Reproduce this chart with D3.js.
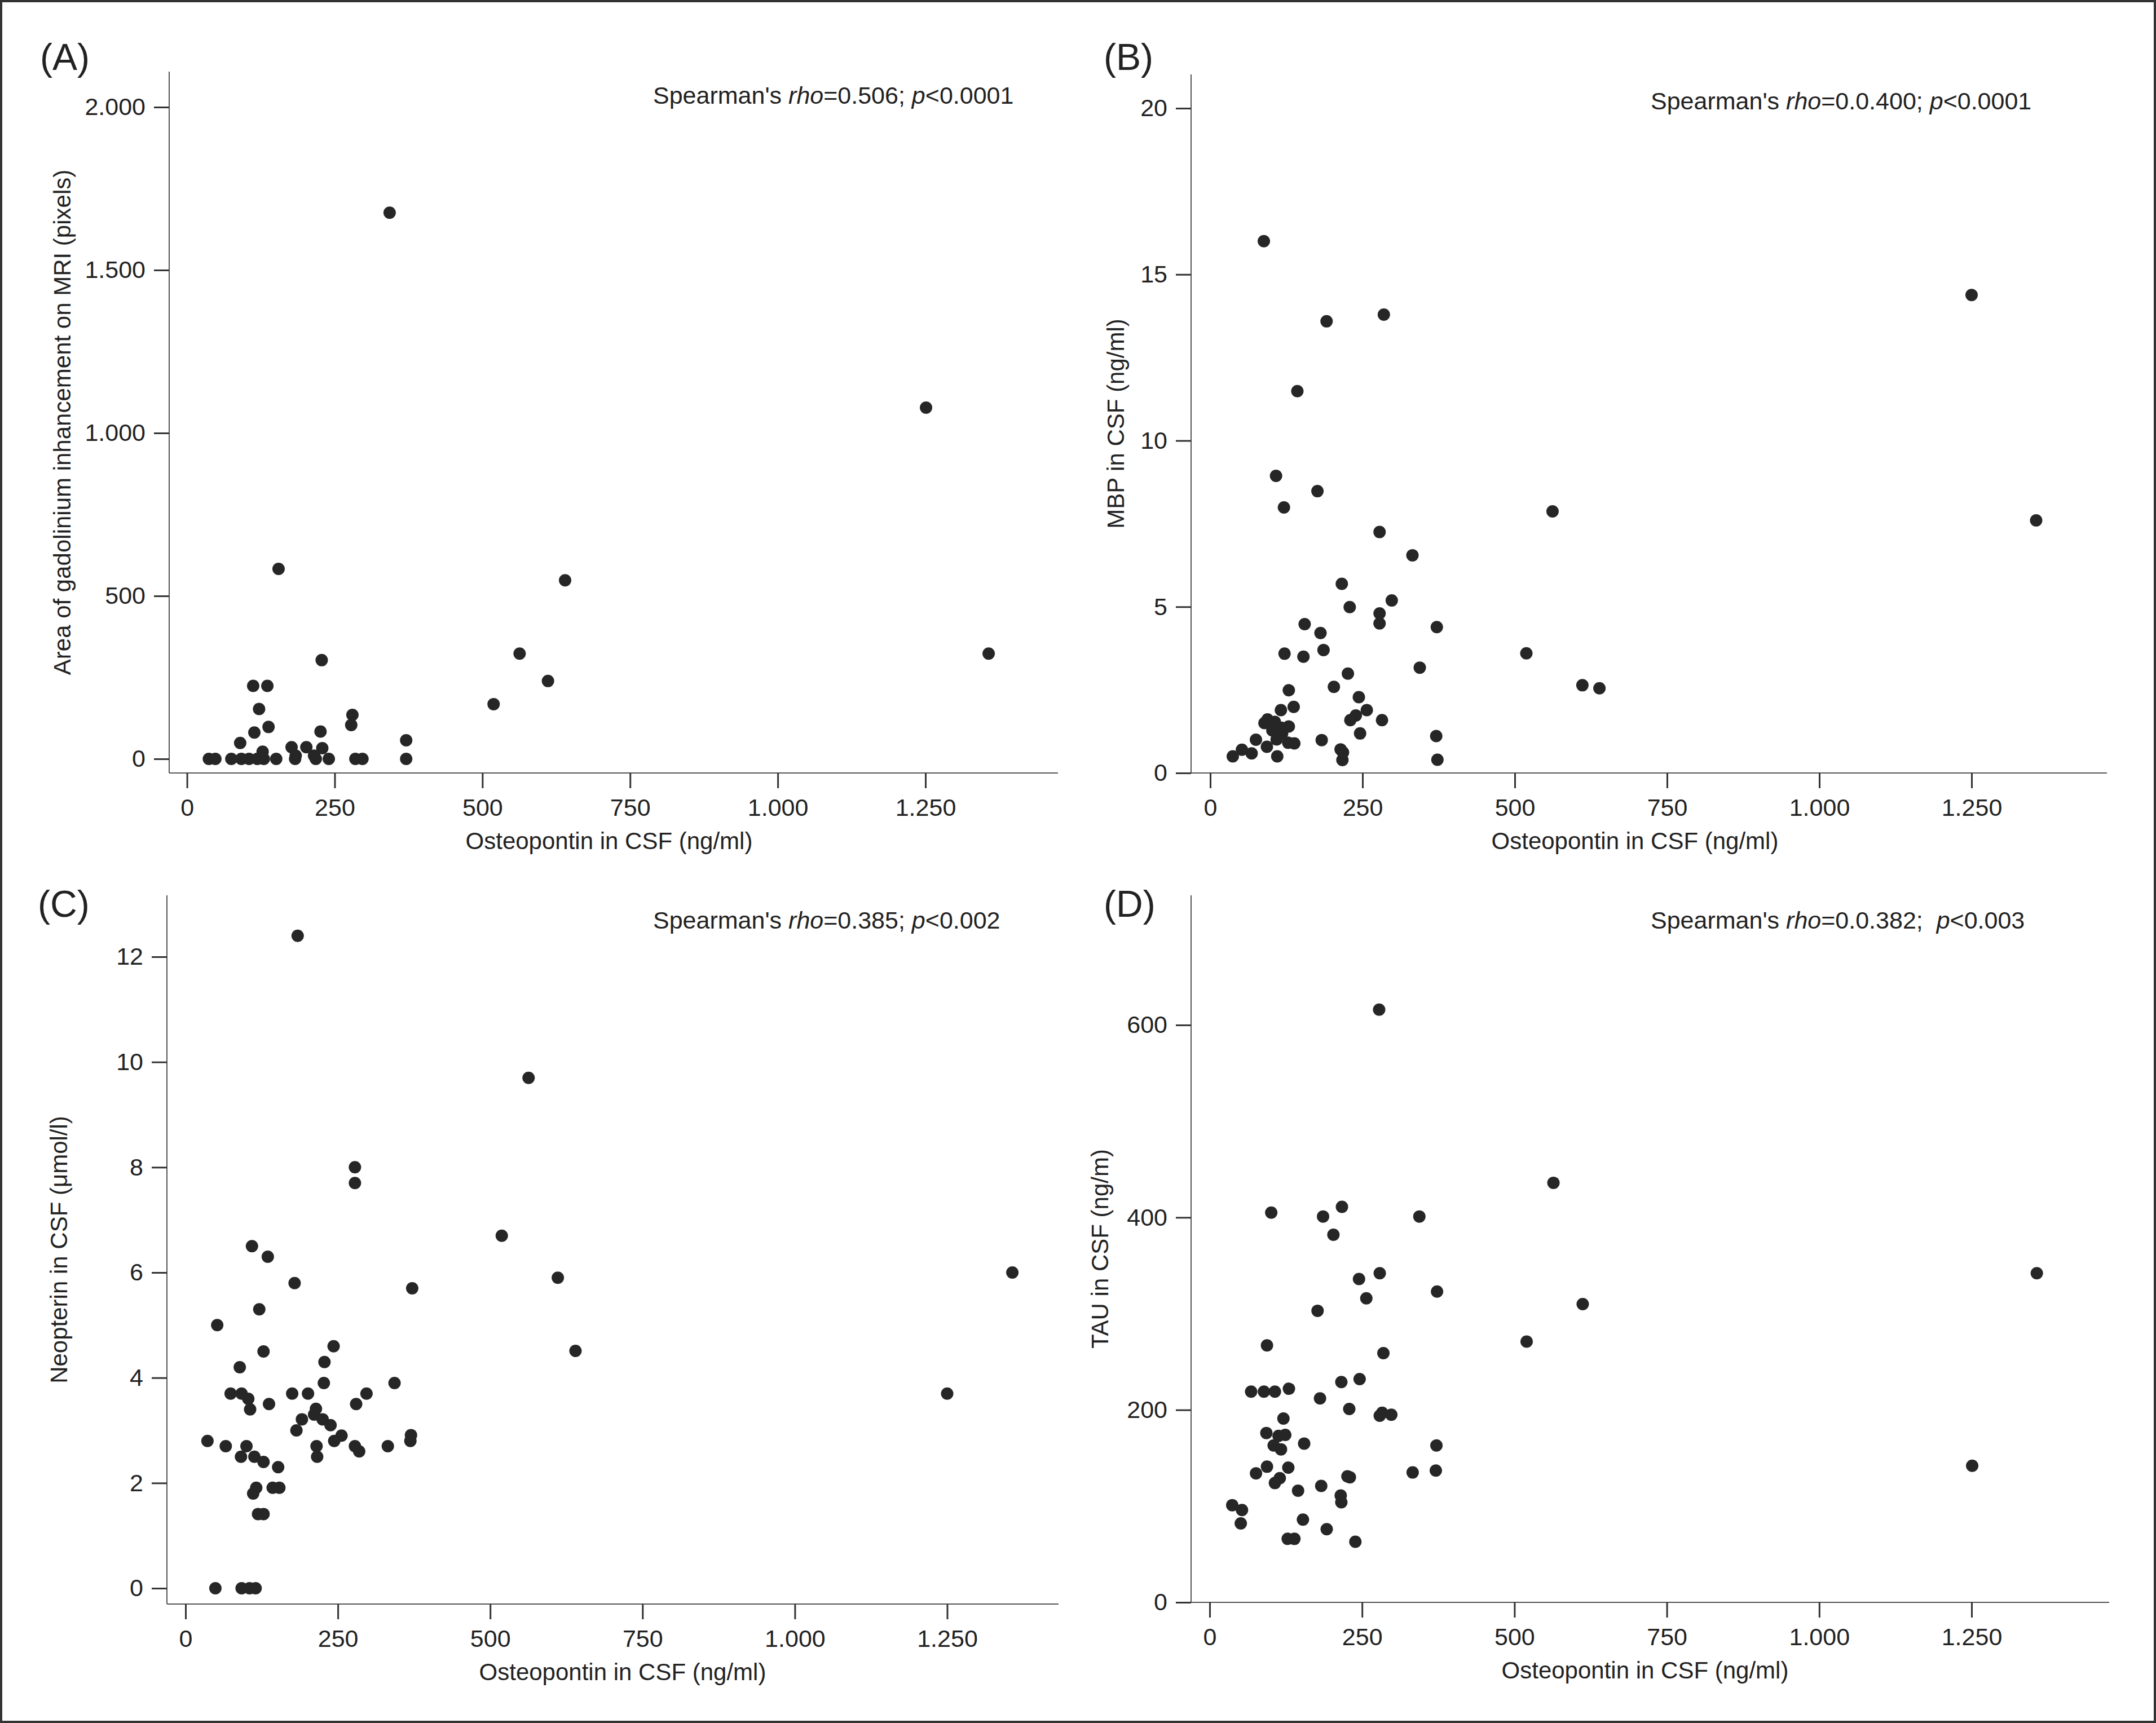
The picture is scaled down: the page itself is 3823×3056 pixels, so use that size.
<!DOCTYPE html>
<html>
<head>
<meta charset="utf-8">
<script src="https://cdn.jsdelivr.net/npm/d3@7"></script>
<style>
  body { margin: 0; background: #fff; }
  svg { display: block; }
  text { font-family: "Liberation Sans", Arial, Helvetica, sans-serif; fill: #222; }
</style>
</head>
<body>
<div id="chart"></div>
<script>
// osteopontin in CSF (ng/ml) vs. area of gadolinium enhancement (pixels)
const panelA = [
  [343,1676],[1251,1078],[1357,323],[640,548],[563,323],[611,239],[519,168],[155,583],
  [228,303],[112,224],[136,224],[122,153],[114,81],[138,98],[226,84],[90,49],
  [280,135],[278,104],[371,57],[371,0],[177,36],[202,36],[229,33],[128,22],[184,10],[215,10],
  [37,0],[48,0],[75,0],[92,0],[105,0],[119,0],[130,0],[151,0],[183,0],[218,0],[240,0],[285,0],[297,0]
];

// osteopontin vs. MBP in CSF (ng/ml)
const panelB = [
  [88,16.0],[1250,14.38],[285,13.79],[191,13.59],[143,11.49],[108,8.94],[176,8.48],[121,7.99],
  [562,7.87],[1356,7.60],[278,7.25],[332,6.55],[216,5.69],[298,5.19],[229,4.99],[278,4.80],
  [278,4.50],[155,4.48],[372,4.39],[181,4.21],[186,3.70],[122,3.59],[153,3.50],[519,3.60],
  [344,3.17],[226,2.99],[611,2.64],[639,2.55],[203,2.59],[129,2.49],[244,2.28],[137,1.99],
  [116,1.89],[257,1.89],[239,1.73],[230,1.59],[282,1.59],[94,1.61],[106,1.54],[89,1.50],
  [129,1.40],[117,1.36],[102,1.28],[118,1.19],[109,1.01],[75,1.00],[93,0.79],[128,0.91],
  [138,0.89],[52,0.70],[68,0.59],[37,0.50],[110,0.50],[183,0.99],[246,1.19],[214,0.71],
  [218,0.62],[217,0.39],[371,1.11],[373,0.40]
];

// osteopontin vs. neopterin in CSF (umol/l)
const panelC = [
  [184,12.4],[563,9.7],[278,8.0],[278,7.7],[519,6.7],[611,5.9],[640,4.51],[1250,3.7],[1357,6.0],
  [372,5.7],[109,6.5],[135,6.3],[179,5.8],[121,5.3],[52,5.0],[128,4.5],[243,4.6],[228,4.3],
  [89,4.2],[227,3.9],[343,3.9],[74,3.7],[92,3.7],[175,3.7],[201,3.7],[297,3.7],[103,3.6],
  [137,3.5],[280,3.5],[106,3.4],[214,3.41],[211,3.3],[225,3.21],[191,3.21],[238,3.1],[182,3.0],
  [256,2.9],[370,2.91],[369,2.8],[244,2.8],[36,2.8],[66,2.7],[100,2.7],[215,2.7],[278,2.7],
  [332,2.7],[285,2.6],[91,2.5],[113,2.5],[216,2.5],[128,2.4],[152,2.3],[116,1.91],[111,1.8],
  [143,1.91],[154,1.91],[119,1.41],[128,1.41],[49,0],[92,0],[105,0],[115,0]
];

// osteopontin vs. TAU in CSF (ng/m)
const panelD = [
  [278,616],[564,436],[612,310],[520,271],[1251,142],[1357,342],
  [101,405],[186,401],[217,411],[344,401],[203,382],[279,342],[245,336],[373,323],[257,316],
  [177,303],[94,267],[285,259],[216,229],[246,232],[68,219],[89,219],[107,219],[130,222],
  [181,212],[229,201],[279,194],[283,197],[298,195],[121,191],[93,176],[113,173],[124,174],
  [105,163],[117,159],[155,165],[372,163],[94,141],[76,134],[129,140],[115,129],[107,124],
  [333,135],[371,137],[226,131],[230,130],[145,116],[183,121],[215,111],[216,104],[37,101],
  [53,96],[51,82],[153,86],[192,76],[128,66],[139,66],[239,63]
];

const xTicks = [0, 250, 500, 750, 1000, 1250];
const yTicksA = [0, 500, 1000, 1500, 2000];
const yTicksB = [0, 5, 10, 15, 20];
const yTicksC = [0, 2, 4, 6, 8, 10, 12];
const yTicksD = [0, 200, 400, 600];

const xTitle = "Osteopontin in CSF (ng/ml)";

const W = 3823, H = 3056;
const fmt = d3.formatLocale({decimal: ",", thousands: ".", grouping: [3], currency: ["", ""]}).format(",");

// layout (pixel positions of the axes in the figure)
const panels = [
  {letter: "(A)", data: panelA, yTicks: yTicksA, yTitle: "Area of gadolinium inhancement on MRI (pixels)",
   rho: "0.506", p: "0.0001", gap: " ",
   axX: 300, axY: 1371, top: 127, right: 1876, x0: 331.6, x1: 1641, y0: 1346, y1: 190,
   letterX: 71, letterY: 124, noteX: 1158, noteY: 184, yTitleX: 125, xTitleX: 1080},
  {letter: "(B)", data: panelB, yTicks: yTicksB, yTitle: "MBP in CSF (ng/ml)",
   rho: "0.0.400", p: "0.0001", gap: " ",
   axX: 2112, axY: 1371, top: 132, right: 3736, x0: 2146, x1: 3496, y0: 1371, y1: 192,
   letterX: 1957, letterY: 124, noteX: 2927, noteY: 194, yTitleX: 1993, xTitleX: 2899},
  {letter: "(C)", data: panelC, yTicks: yTicksC, yTitle: "Neopterin in CSF (\u03bcmol/l)",
   rho: "0.385", p: "0.002", gap: " ",
   axX: 296, axY: 2845, top: 1588, right: 1877, x0: 329, x1: 1679.5, y0: 2817, y1: 1697,
   letterX: 67, letterY: 1626, noteX: 1158, noteY: 1647, yTitleX: 119, xTitleX: 1104},
  {letter: "(D)", data: panelD, yTicks: yTicksD, yTitle: "TAU in CSF (ng/m)",
   rho: "0.0.382", p: "0.003", gap: "\u00a0 ",
   axX: 2112, axY: 2842, top: 1588, right: 3740, x0: 2145, x1: 3496, y0: 2842, y1: 1818,
   letterX: 1957, letterY: 1626, noteX: 2927, noteY: 1647, yTitleX: 1965, xTitleX: 2917}
];

const svg = d3.select("#chart").append("svg")
  .attr("width", W)
  .attr("height", H);

svg.append("rect").attr("width", W).attr("height", H).attr("fill", "#fff");

panels.forEach(p => {
  const yMax = p.yTicks[p.yTicks.length - 1];
  const x = d3.scaleLinear().domain([0, 1250]).range([p.x0, p.x1]);
  const y = d3.scaleLinear().domain([0, yMax]).range([p.y0, p.y1]);
  const g = svg.append("g");

  // axis lines
  g.append("line")
    .attr("x1", p.axX).attr("x2", p.axX).attr("y1", p.top).attr("y2", p.axY)
    .attr("stroke", "#555").attr("stroke-width", 2);
  g.append("line")
    .attr("x1", p.axX).attr("x2", p.right).attr("y1", p.axY).attr("y2", p.axY)
    .attr("stroke", "#555").attr("stroke-width", 2);

  const gx = g.append("g")
    .attr("transform", `translate(0,${p.axY})`)
    .call(d3.axisBottom(x).tickValues(xTicks).tickFormat(fmt).tickSize(27).tickPadding(18));
  const gy = g.append("g")
    .attr("transform", `translate(${p.axX},0)`)
    .call(d3.axisLeft(y).tickValues(p.yTicks).tickFormat(fmt).tickSize(27).tickPadding(15));

  [gx, gy].forEach(a => {
    a.select(".domain").remove();
    a.attr("font-size", null).attr("font-family", null);
    a.selectAll(".tick line").attr("stroke", "#333").attr("stroke-width", 3);
    a.selectAll(".tick text").attr("fill", "#222").style("font-size", "43px");
  });

  // points
  g.append("g").selectAll("circle")
    .data(p.data)
    .join("circle")
      .attr("cx", d => x(d[0]))
      .attr("cy", d => y(d[1]))
      .attr("r", 11)
      .attr("fill", "#262626");

  // titles
  g.append("text")
    .attr("x", p.xTitleX).attr("y", p.axY + 135)
    .attr("text-anchor", "middle")
    .style("font-size", "42px")
    .text(xTitle);

  g.append("text")
    .attr("transform", `translate(${p.yTitleX},${(p.top + p.axY) / 2}) rotate(-90)`)
    .attr("text-anchor", "middle")
    .style("font-size", "42px")
    .text(p.yTitle);

  g.append("text")
    .attr("x", p.letterX).attr("y", p.letterY)
    .style("font-size", "66px")
    .text(p.letter);

  const note = g.append("text")
    .attr("x", p.noteX).attr("y", p.noteY)
    .style("font-size", "43px")
    .attr("xml:space", "preserve");
  note.append("tspan").text("Spearman's ");
  note.append("tspan").style("font-style", "italic").text("rho");
  note.append("tspan").text("=" + p.rho + ";" + p.gap);
  note.append("tspan").style("font-style", "italic").text("p");
  note.append("tspan").text("<" + p.p);
});

// figure frame
svg.append("rect")
  .attr("x", 2).attr("y", 2)
  .attr("width", W - 4).attr("height", H - 4)
  .attr("fill", "none")
  .attr("stroke", "#333")
  .attr("stroke-width", 4);
</script>
</body>
</html>
